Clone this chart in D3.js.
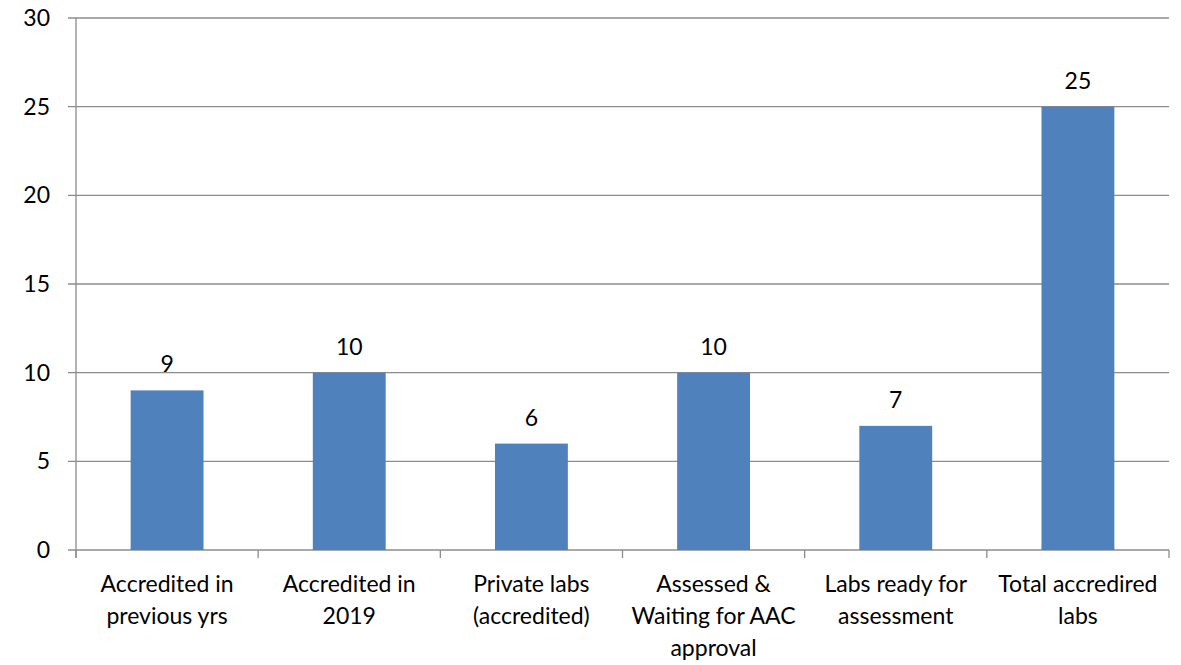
<!DOCTYPE html>
<html>
<head>
<meta charset="utf-8">
<script src="https://cdn.jsdelivr.net/npm/d3@7"></script>
<style>
  body { margin: 0; background: #fff; }
  text { font-family: Lato, "Open Sans", sans-serif; fill: #000; }
</style>
</head>
<body>
<div id="chart"></div>
<script>
// data
var categories = [
  ["Accredited in", "previous yrs"],
  ["Accredited in", "2019"],
  ["Private labs", "(accredited)"],
  ["Assessed &", "Waiting for AAC", "approval"],
  ["Labs ready for", "assessment"],
  ["Total accredired", "labs"]
];
var values = [9, 10, 6, 10, 7, 25];
var yTicks = [0, 5, 10, 15, 20, 25, 30];

var width = 1181, height = 665;
var plotLeft = 76, plotRight = 1169, plotTop = 18, plotBottom = 550;
var fontSize = "23px";

var svg = d3.select("#chart").append("svg")
    .attr("width", width)
    .attr("height", height);

var x = d3.scaleBand()
    .domain(d3.range(categories.length))
    .range([plotLeft, plotRight])
    .paddingInner(0.6)
    .paddingOuter(0.3);

var y = d3.scaleLinear()
    .domain([0, 30])
    .range([plotBottom, plotTop]);

// gridlines
svg.append("g").selectAll("line")
    .data(yTicks)
  .enter().append("line")
    .attr("x1", plotLeft - 8)
    .attr("x2", plotRight)
    .attr("y1", function(d) { return y(d); })
    .attr("y2", function(d) { return y(d); })
    .style("stroke", "#8c8c8c")
    .style("stroke-width", 1.3);

// y labels
svg.append("g").selectAll("text")
    .data(yTicks)
  .enter().append("text")
    .attr("x", plotLeft - 26)
    .attr("y", function(d) { return y(d); })
    .attr("dy", "0.35em")
    .attr("text-anchor", "end")
    .style("font-size", fontSize)
    .text(function(d) { return d; });

// bars
svg.append("g").selectAll("rect")
    .data(values)
  .enter().append("rect")
    .attr("x", function(d, i) { return x(i); })
    .attr("width", x.bandwidth())
    .attr("y", function(d) { return y(d); })
    .attr("height", function(d) { return y(0) - y(d); })
    .style("fill", "#4f81bd");

// value labels
svg.append("g").selectAll("text")
    .data(values)
  .enter().append("text")
    .attr("x", function(d, i) { return x(i) + x.bandwidth() / 2; })
    .attr("y", function(d) { return y(d) - 18; })
    .attr("text-anchor", "middle")
    .style("font-size", fontSize)
    .text(function(d) { return d; });

// y axis line
svg.append("line")
    .attr("x1", plotLeft).attr("x2", plotLeft)
    .attr("y1", plotTop).attr("y2", plotBottom + 8)
    .style("stroke", "#8c8c8c")
    .style("stroke-width", 1.3);

// category ticks
var step = x.step();
svg.append("g").selectAll("line")
    .data(d3.range(categories.length + 1))
  .enter().append("line")
    .attr("x1", function(i) { return plotLeft + i * step; })
    .attr("x2", function(i) { return plotLeft + i * step; })
    .attr("y1", plotBottom)
    .attr("y2", plotBottom + 8)
    .style("stroke", "#8c8c8c")
    .style("stroke-width", 1.3);

// category labels
var cat = svg.append("g").selectAll("text")
    .data(categories)
  .enter().append("text")
    .attr("x", function(d, i) { return x(i) + x.bandwidth() / 2; })
    .attr("y", plotBottom + 42)
    .attr("text-anchor", "middle")
    .style("font-size", fontSize);

cat.selectAll("tspan")
    .data(function(d) { return d; })
  .enter().append("tspan")
    .attr("x", function() { return d3.select(this.parentNode).attr("x"); })
    .attr("dy", function(d, i) { return i === 0 ? 0 : 32; })
    .text(function(d) { return d; });
</script>
</body>
</html>
